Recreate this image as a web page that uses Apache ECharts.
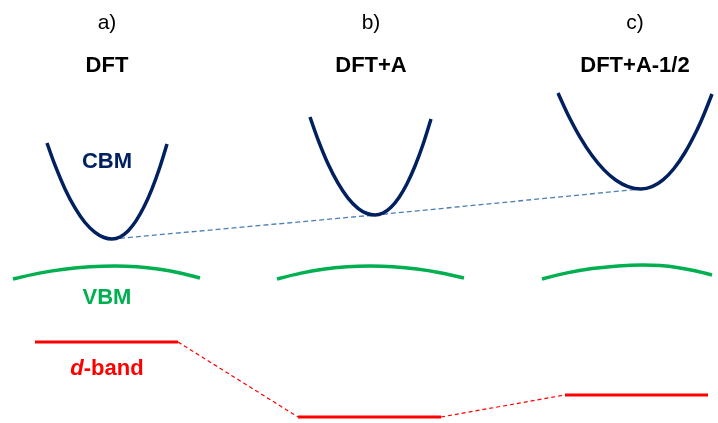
<!DOCTYPE html>
<html>
<head>
<meta charset="utf-8">
<script src="https://cdn.jsdelivr.net/npm/echarts@6/dist/echarts.min.js"></script>
<style>
html,body{margin:0;padding:0;background:#fff;}
#chart{width:718px;height:423px;}
</style>
</head>
<body>
<div id="chart"></div>
<script>
// Panel labels
const panelTags = ['a)', 'b)', 'c)'];
const panelNames = ['DFT', 'DFT+A', 'DFT+A-1/2'];
const panelCenters = [107, 371, 635];

// CBM parabolas (k, energy)
const cbmA_k = [47, 55, 65, 75, 85, 95, 104, 112, 120, 128, 136, 144, 152, 160, 167];
const cbmA_E = [280, 257.8, 234.1, 215.1, 200.5, 190.6, 185.5, 184, 186, 192, 202.1, 216.2, 234.2, 256.3, 279];
const cbmB_k = [310, 318, 328, 338, 348, 358, 367, 375, 383, 391, 399, 407, 415, 423, 431];
const cbmB_E = [306, 283.4, 259.2, 239.8, 224.9, 214.7, 209.5, 208, 210, 215.8, 225.6, 239.3, 257, 278.5, 304];
const cbmC_k = [558, 568, 580, 592, 604, 616, 628, 641, 652, 663, 674, 685, 696, 704, 712];
const cbmC_E = [330, 308.3, 285.9, 267.5, 253.1, 242.7, 236.4, 234, 236.3, 243.1, 254.5, 270.5, 291, 308.8, 329];

// VBM arcs
const vbmA_k = [13, 38, 64, 90, 115, 137, 158, 180, 200];
const vbmA_E = [144, 149.6, 153.7, 156.2, 157, 156.2, 153.9, 150, 145];
const vbmB_k = [277, 300, 323, 347, 370, 393, 417, 440, 464];
const vbmB_E = [144, 149.6, 153.7, 156.2, 157, 156.3, 154, 150.3, 145];
const vbmC_k = [542, 567, 592, 618, 643, 660, 677, 695, 712];
const vbmC_E = [144, 150.1, 154.4, 157.1, 158, 157.4, 155.6, 152.3, 148];

// d-band levels
const dStart = [35, 298, 565];
const dEnd = [178, 441, 708];
const dLevel = [81, 6, 28];

// CBM minima connector
const cbmMinK = [112, 375, 641];
const cbmMinE = [184, 208, 234];

const zip = (a, b) => a.map((v, i) => [v, b[i]]);

const cbmStyle = {color: '#002060', width: 3.5};
const vbmStyle = {color: '#00b050', width: 3.5};
const dStyle = {color: '#ff0000', width: 3};

const series = [];
[[cbmA_k, cbmA_E], [cbmB_k, cbmB_E], [cbmC_k, cbmC_E]].forEach(([k, e]) => {
  series.push({type: 'line', data: zip(k, e), smooth: 0.3, symbol: 'none', lineStyle: cbmStyle, z: 3});
});
[[vbmA_k, vbmA_E], [vbmB_k, vbmB_E], [vbmC_k, vbmC_E]].forEach(([k, e]) => {
  series.push({type: 'line', data: zip(k, e), smooth: 0.3, symbol: 'none', lineStyle: vbmStyle, z: 3});
});
dLevel.forEach((lv, i) => {
  series.push({type: 'line', data: [[dStart[i], lv], [dEnd[i], lv]], symbol: 'none', lineStyle: dStyle, z: 3});
});
// red dashed connectors between d-band levels
for (let i = 0; i < dLevel.length - 1; i++) {
  series.push({type: 'line', data: [[dEnd[i], dLevel[i]], [dStart[i + 1], dLevel[i + 1]]], symbol: 'none',
    lineStyle: {color: '#ff0000', width: 1.2, type: [4, 3]}, z: 2});
}
// blue dashed connector through CBM minima
series.push({type: 'line', data: zip(cbmMinK, cbmMinE), symbol: 'none',
  lineStyle: {color: '#4a7ebb', width: 1.3, type: [5, 3]}, z: 2});

const graphic = [];
panelCenters.forEach((cx, i) => {
  graphic.push({type: 'text', x: cx, y: 23, style: {text: panelTags[i], fill: '#000', font: '21px "Liberation Sans", Arial, sans-serif', textAlign: 'center', textVerticalAlign: 'middle'}});
  graphic.push({type: 'text', x: cx, y: 66, style: {text: panelNames[i], fill: '#000', font: 'bold 22px "Liberation Sans", Arial, sans-serif', textAlign: 'center', textVerticalAlign: 'middle'}});
});
graphic.push({type: 'text', x: 107, y: 162, style: {text: 'CBM', fill: '#002060', font: 'bold 22px "Liberation Sans", Arial, sans-serif', textAlign: 'center', textVerticalAlign: 'middle'}});
graphic.push({type: 'text', x: 107, y: 298, style: {text: 'VBM', fill: '#00b050', font: 'bold 22px "Liberation Sans", Arial, sans-serif', textAlign: 'center', textVerticalAlign: 'middle'}});
graphic.push({type: 'text', x: 107, y: 369, style: {
  text: '{i|d}{n|-band}', textAlign: 'center', textVerticalAlign: 'middle',
  rich: {
    i: {fill: '#ff0000', font: 'italic bold 22px "Liberation Sans", Arial, sans-serif'},
    n: {fill: '#ff0000', font: 'bold 22px "Liberation Sans", Arial, sans-serif'}
  }
}});

const chart = echarts.init(document.getElementById('chart'), null, {renderer: 'canvas'});
chart.setOption({
  animation: false,
  backgroundColor: '#fff',
  grid: {left: 0, right: 0, top: 0, bottom: 0},
  xAxis: {type: 'value', min: 0, max: 718, show: false},
  yAxis: {type: 'value', min: 0, max: 423, show: false},
  series: series,
  graphic: graphic
});
</script>
</body>
</html>
